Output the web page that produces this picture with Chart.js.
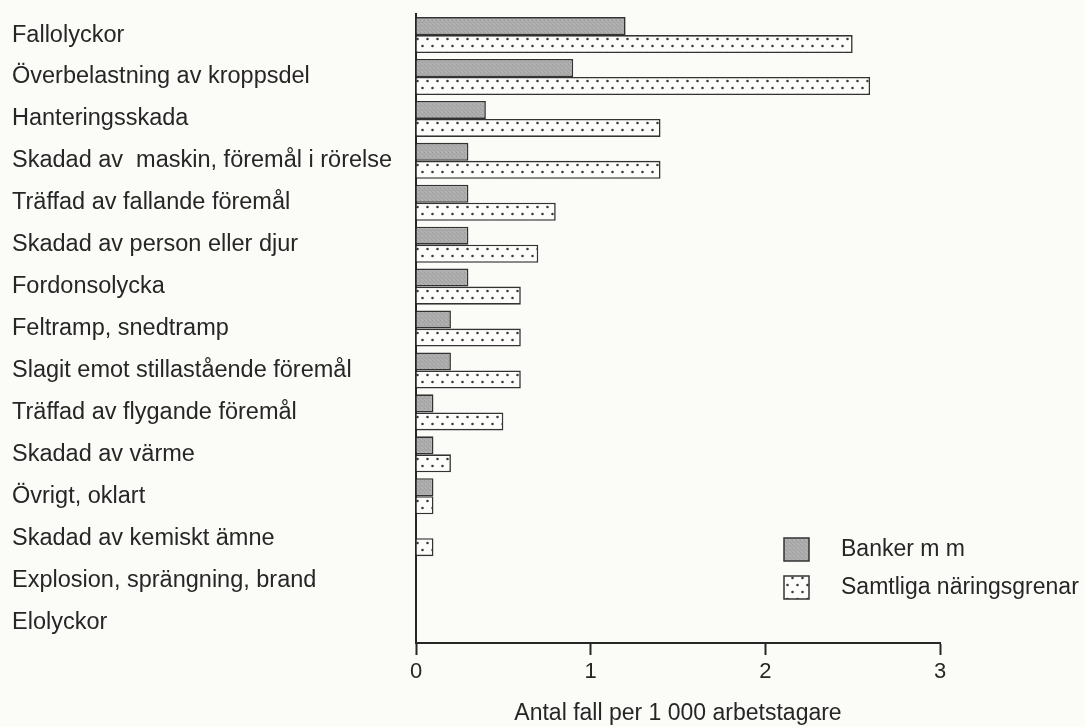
<!DOCTYPE html>
<html>
<head>
<meta charset="utf-8">
<script src="https://cdn.jsdelivr.net/npm/chart.js@4/dist/chart.umd.min.js"></script>
<style>
  html, body { margin: 0; background: #fbfbf8; }
  #wrap { width: 1085px; height: 727px; }
</style>
</head>
<body>
<div id="wrap"><canvas id="injuryChart"></canvas></div>
<script>
const categories = [
  "Fallolyckor",
  "Överbelastning av kroppsdel",
  "Hanteringsskada",
  "Skadad av  maskin, föremål i rörelse",
  "Träffad av fallande föremål",
  "Skadad av person eller djur",
  "Fordonsolycka",
  "Feltramp, snedtramp",
  "Slagit emot stillastående föremål",
  "Träffad av flygande föremål",
  "Skadad av värme",
  "Övrigt, oklart",
  "Skadad av kemiskt ämne",
  "Explosion, sprängning, brand",
  "Elolyckor",
];
const bankerValues = [1.2, 0.9, 0.4, 0.3, 0.3, 0.3, 0.3, 0.2, 0.2, 0.1, 0.1, 0.1, 0, 0, 0];
const samtligaValues = [2.5, 2.6, 1.4, 1.4, 0.8, 0.7, 0.6, 0.6, 0.6, 0.5, 0.2, 0.1, 0.1, 0, 0];
const xTicks = [0, 1, 2, 3];
const seriesNames = ["Banker m m", "Samtliga näringsgrenar"];
const axisTitle = "Antal fall per 1 000 arbetstagare";

const ink = "#262626";
const font = "'Liberation Sans', Arial, sans-serif";

function grayPattern() {
  const c = document.createElement("canvas");
  c.width = 4; c.height = 4;
  const g = c.getContext("2d");
  g.fillStyle = "#ababab";
  g.fillRect(0, 0, 4, 4);
  g.fillStyle = "#9d9d9d";
  g.fillRect(0, 0, 1, 1);
  g.fillRect(2, 2, 1, 1);
  g.fillStyle = "#b7b7b7";
  g.fillRect(2, 0, 1, 1);
  g.fillRect(1, 3, 1, 1);
  return g.createPattern(c, "repeat");
}

// staggered dot screen; 14px period fits 3 times in a 42px category band
function dotPattern() {
  const c = document.createElement("canvas");
  c.width = 10; c.height = 14;
  const g = c.getContext("2d");
  g.fillStyle = "#fdfdfb";
  g.fillRect(0, 0, 10, 14);
  g.fillStyle = "#3a3a3a";
  g.beginPath();
  g.arc(2.5, 4, 1.3, 0, Math.PI * 2);
  g.arc(7.5, 11, 1.3, 0, Math.PI * 2);
  g.fill();
  return g.createPattern(c, "repeat");
}

// legend boxes drawn inside the plot, lower right
const boxLegend = {
  id: "boxLegend",
  afterDraw(chart) {
    const ctx = chart.ctx;
    ctx.save();
    chart.data.datasets.forEach((ds, i) => {
      const x = 784, y = 538 + i * 38;
      ctx.fillStyle = ds.backgroundColor;
      ctx.fillRect(x, y, 25, 23);
      ctx.strokeStyle = ds.borderColor;
      ctx.lineWidth = 1.5;
      ctx.strokeRect(x, y, 25, 23);
      ctx.fillStyle = ink;
      ctx.font = "23px " + font;
      ctx.textBaseline = "middle";
      ctx.fillText(ds.label, 841, y + 12);
    });
    ctx.restore();
  },
};

new Chart(document.getElementById("injuryChart"), {
  type: "bar",
  data: {
    labels: categories,
    datasets: [
      {
        label: seriesNames[0],
        data: bankerValues,
        backgroundColor: grayPattern(),
        borderColor: "#333333",
        borderWidth: 1.6,
      },
      {
        label: seriesNames[1],
        data: samtligaValues,
        backgroundColor: dotPattern(),
        borderColor: "#333333",
        borderWidth: 1.6,
      },
    ],
  },
  options: {
    indexAxis: "y",
    responsive: true,
    maintainAspectRatio: false,
    animation: false,
    datasets: {
      bar: { categoryPercentage: 0.86, barPercentage: 1.0 },
    },
    layout: { padding: { left: 12, right: 145, top: 13, bottom: 0 } },
    plugins: {
      legend: { display: false },
      tooltip: { enabled: false },
    },
    scales: {
      x: {
        min: 0,
        max: 3,
        afterBuildTicks(scale) {
          scale.ticks = xTicks.map((v) => ({ value: v }));
        },
        afterFit(scale) {
          scale.height = 84;
        },
        grid: {
          drawOnChartArea: false,
          drawTicks: true,
          tickLength: 12,
          tickWidth: 2,
          tickColor: ink,
        },
        border: { display: true, color: ink, width: 2 },
        ticks: {
          color: ink,
          padding: 4,
          font: { family: font, size: 22 },
        },
        title: {
          display: true,
          text: axisTitle,
          color: ink,
          padding: { top: 10, bottom: 0 },
          font: { family: font, size: 23 },
        },
      },
      y: {
        afterFit(scale) {
          scale.width = 404;
        },
        grid: { display: false, drawTicks: false },
        border: { display: true, color: ink, width: 2 },
        ticks: {
          crossAlign: "far",
          color: ink,
          padding: 0,
          font: { family: font, size: 23.5 },
        },
      },
    },
  },
  plugins: [boxLegend],
});
</script>
</body>
</html>
